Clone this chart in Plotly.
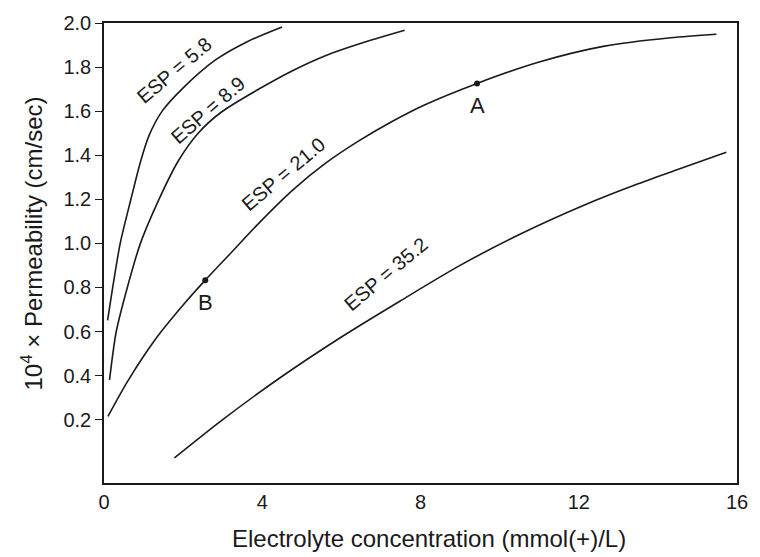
import plotly.graph_objects as go

# Permeability curves (10^4 x cm/sec) vs electrolyte concentration (mmol(+)/L)
esp_58_x = [0.09, 0.22, 0.41, 0.68, 0.93, 1.14, 1.47, 1.97, 2.80, 3.62, 4.50]
esp_58_y = [0.651, 0.80, 1.00, 1.20, 1.375, 1.49, 1.60, 1.70, 1.83, 1.915, 1.982]

esp_89_x = [0.14, 0.31, 0.59, 0.92, 1.39, 1.88, 2.38, 2.96, 3.96, 4.79, 5.61, 6.44, 7.60]
esp_89_y = [0.38, 0.60, 0.80, 1.00, 1.20, 1.375, 1.50, 1.595, 1.705, 1.786, 1.853, 1.905, 1.967]

esp_210_x = [0.10, 0.60, 1.30, 2.00, 2.56, 3.20, 3.96, 4.79, 5.61, 6.44, 7.27, 8.10, 9.43, 11.0, 12.65, 14.32, 15.48]
esp_210_y = [0.215, 0.375, 0.565, 0.72, 0.833, 0.955, 1.10, 1.245, 1.365, 1.465, 1.552, 1.628, 1.726, 1.823, 1.895, 1.933, 1.949]

esp_352_x = [1.78, 3.00, 4.45, 6.00, 7.50, 9.00, 10.5, 12.16, 13.5, 14.5, 15.73]
esp_352_y = [0.026, 0.20, 0.39, 0.575, 0.74, 0.90, 1.04, 1.175, 1.27, 1.335, 1.413]

# Marked points on the ESP = 21.0 curve
point_names = ["A", "B"]
point_x = [9.43, 2.56]
point_y = [1.726, 0.833]

# Curve labels: text, position, angle
curve_labels = ["ESP = 5.8", "ESP = 8.9", "ESP = 21.0", "ESP = 35.2"]
label_x = [1.78, 2.63, 4.54, 7.12]
label_y = [1.787, 1.604, 1.313, 0.862]
label_angle = [-40, -41, -40, -40]

x_ticks = [0, 4, 8, 12, 16]
y_ticks = [0.2, 0.4, 0.6, 0.8, 1.0, 1.2, 1.4, 1.6, 1.8, 2.0]

x_title = "Electrolyte concentration (mmol(+)/L)"
y_title = "10<sup>4</sup> × Permeability (cm/sec)"

FONT = "Liberation Sans, Arial, sans-serif"
INK = "#1a1a1a"

fig = go.Figure()
for xs, ys in [(esp_58_x, esp_58_y), (esp_89_x, esp_89_y),
               (esp_210_x, esp_210_y), (esp_352_x, esp_352_y)]:
    fig.add_trace(go.Scatter(
        x=xs, y=ys, mode="lines",
        line=dict(color=INK, width=1.6, shape="spline", smoothing=0.8),
        hoverinfo="skip", showlegend=False,
    ))

fig.add_trace(go.Scatter(
    x=point_x, y=point_y, mode="markers",
    marker=dict(color=INK, size=6),
    showlegend=False, hoverinfo="skip",
))

for name, px, py in zip(point_names, point_x, point_y):
    fig.add_annotation(x=px, y=py, text=name, showarrow=False,
                       yshift=-22, font=dict(family=FONT, size=22, color=INK))

for txt, lx, ly, ang in zip(curve_labels, label_x, label_y, label_angle):
    fig.add_annotation(x=lx, y=ly, text=txt, showarrow=False, textangle=ang,
                       font=dict(family=FONT, size=20, color=INK))

# Axis titles placed in paper coordinates
fig.add_annotation(x=0.513, y=-0.12, xref="paper", yref="paper", text=x_title,
                   showarrow=False, xanchor="center", yanchor="middle",
                   font=dict(family=FONT, size=24, color=INK))
fig.add_annotation(x=-0.1135, y=0.521, xref="paper", yref="paper", text=y_title,
                   showarrow=False, textangle=-90, xanchor="center", yanchor="middle",
                   font=dict(family=FONT, size=24, color=INK))

fig.update_layout(
    width=760, height=557,
    margin=dict(l=104, r=13, t=15, b=74),
    paper_bgcolor="white", plot_bgcolor="white",
    font=dict(family=FONT, color=INK),
    showlegend=False,
)

fig.update_xaxes(
    range=[0, 16], tickvals=x_ticks, ticktext=[str(v) for v in x_ticks],
    ticks="", ticklabelstandoff=0,
    tickfont=dict(size=20, color=INK),
    showline=True, linecolor=INK, linewidth=1.6, mirror=True,
    showgrid=False, zeroline=False,
)
fig.update_yaxes(
    range=[-0.0875, 2.0], tickvals=y_ticks, ticktext=[f"{v:.1f}" for v in y_ticks],
    ticks="outside", ticklen=7, tickwidth=1.4, tickcolor=INK,
    tickfont=dict(size=20, color=INK),
    showline=True, linecolor=INK, linewidth=1.6, mirror=True,
    showgrid=False, zeroline=False,
)

fig.write_html("out.html")
